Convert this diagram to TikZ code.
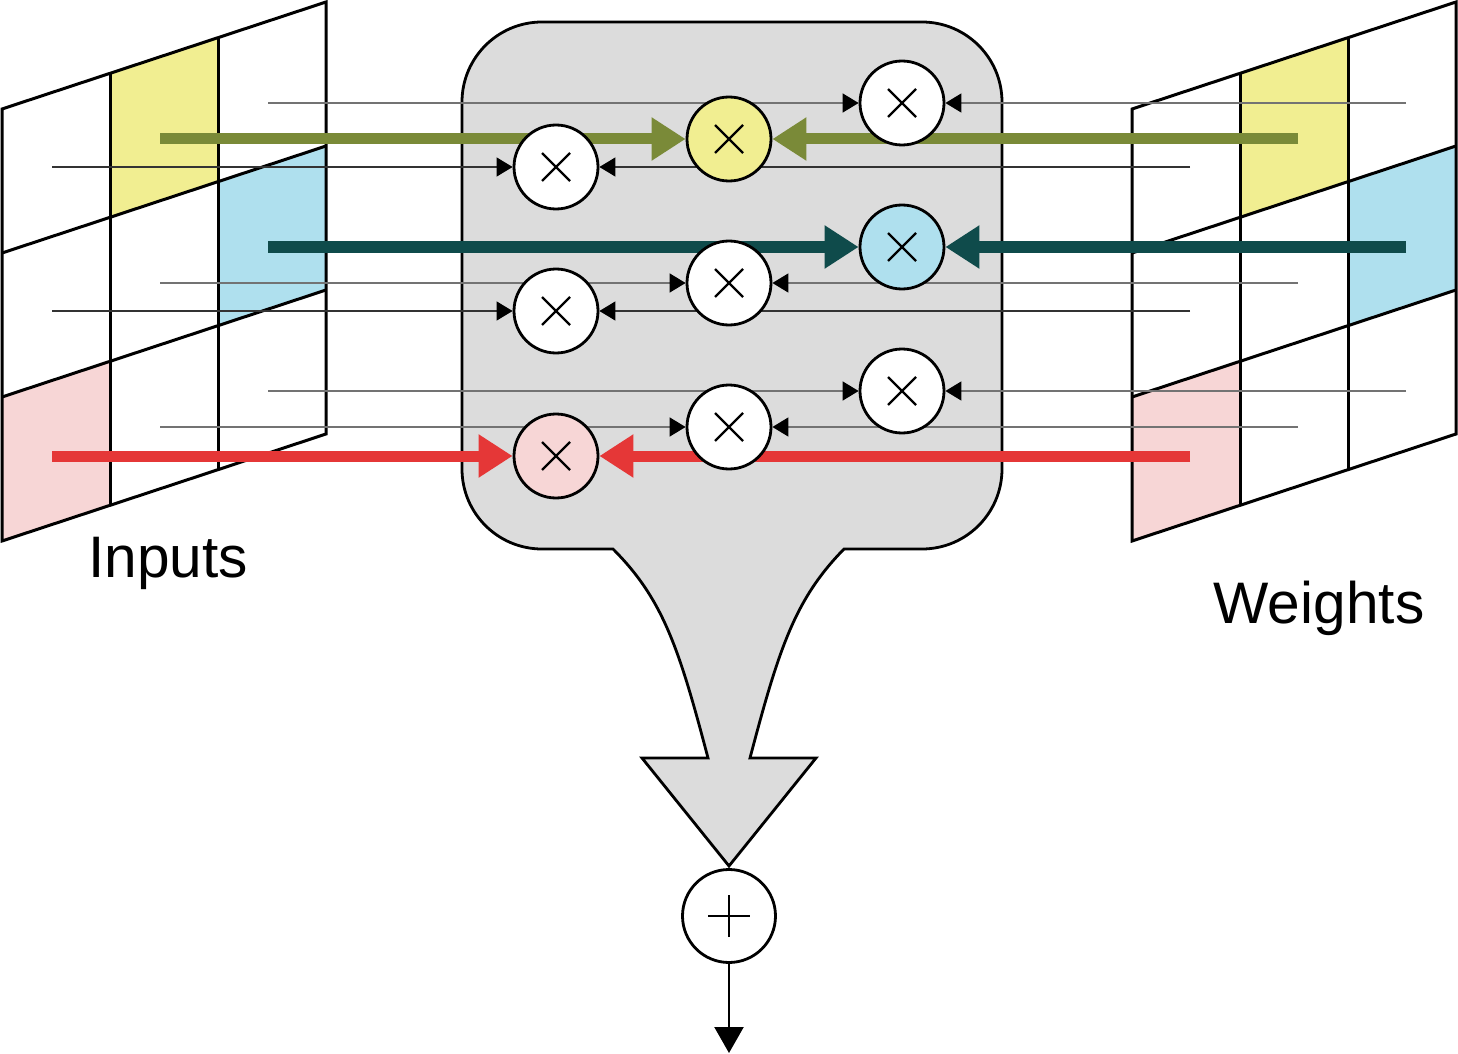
\documentclass[tikz,border=0pt]{standalone}
\usepackage{xcolor}
\usepackage{fontspec}
\setmainfont{Liberation Sans}
\usepackage{tikz}
\usetikzlibrary{arrows.meta}
\usetikzlibrary{positioning}
\definecolor{cyellow}{HTML}{F1EE91}
\definecolor{cblue}{HTML}{AFE0EE}
\definecolor{cpink}{HTML}{F7D6D6}
\definecolor{colive}{HTML}{7A8A38}
\definecolor{cteal}{HTML}{0F4B4B}
\definecolor{cred}{HTML}{E53737}
\definecolor{boxgray}{HTML}{DCDCDC}
\pgfdeclarelayer{background}
\pgfdeclarelayer{wires}
\pgfsetlayers{background,wires,main}
\tikzstyle{gridline} = [line width=1.5pt, draw=black, line join=miter]
\tikzstyle{box} = [line width=1.4pt, draw=black, fill=boxgray]
\tikzstyle{mult} = [circle, draw=black, line width=1.4pt, fill=white, minimum size=42pt, inner sep=0pt,
    path picture={
      \draw[line width=1.1pt] ([shift={(-7pt,-7pt)}]path picture bounding box.center) -- ([shift={(7pt,7pt)}]path picture bounding box.center);
      \draw[line width=1.1pt] ([shift={(-7pt,7pt)}]path picture bounding box.center) -- ([shift={(7pt,-7pt)}]path picture bounding box.center);}]
\tikzstyle{adder} = [circle, draw=black, line width=1.4pt, fill=white, minimum size=46.5pt, inner sep=0pt,
    path picture={
      \draw[line width=1.2pt] ([shift={(-10.5pt,0pt)}]path picture bounding box.center) -- ([shift={(10.5pt,0pt)}]path picture bounding box.center);
      \draw[line width=1.2pt] ([shift={(0pt,-10.5pt)}]path picture bounding box.center) -- ([shift={(0pt,10.5pt)}]path picture bounding box.center);}]
\tikzstyle{wire} = [line width=0.8pt, draw=black!55, -{Triangle[length=8pt, width=9.5pt, black]}]
\tikzstyle{wiredark} = [wire, line width=0.65pt, draw=black!80]
\tikzstyle{bus} = [line width=5.5pt, -{Triangle[length=17pt, width=20.5pt]}]
\tikzstyle{busolive} = [bus, draw=colive]
\tikzstyle{busteal} = [bus, draw=cteal]
\tikzstyle{busred} = [bus, draw=cred]
\tikzstyle{outarrow} = [line width=1.2pt, -{Triangle[length=13pt, width=14.5pt]}]
\tikzstyle{gridlabel} = [font=\fontsize{29.3pt}{34pt}\selectfont, anchor=base, inner sep=0pt]
\newcommand{\gridcell}[3]{\fill[#3] ({#1*108}, {#2*144-#1*35.67}) -- ++(108,-35.67) -- ++(0,144) -- ++(-108,35.67) -- cycle;}

\begin{document}
\begin{tikzpicture}[x=0.5pt, y=-0.5pt]
    \useasboundingbox (0,0) rectangle (1458,1054);
    \begin{pgfonlayer}{background}
    % multiplier block with its funnel
    \draw[box] (613,549) -- (542,549) .. controls (497.8,549) and (462,513.2) .. (462,469)
        -- (462,102) .. controls (462,57.8) and (497.8,22) .. (542,22)
        -- (922,22) .. controls (966.2,22) and (1002,57.8) .. (1002,102)
        -- (1002,469) .. controls (1002,513.2) and (966.2,549) .. (922,549)
        -- (844,549) .. controls (795,599) and (779,648) .. (750,758)
        -- (816,758) -- (729,866) -- (642,758) -- (708,758)
        .. controls (679,648) and (663,599) .. (613,549) -- cycle;
    % input and weight grids
    \foreach \gx in {2,1132} {
      \begin{scope}[shift={(\gx,109)}]
        \gridcell{1}{0}{cyellow}
        \gridcell{2}{1}{cblue}
        \gridcell{0}{2}{cpink}
        \foreach \r in {1,2} \draw[gridline] (0,{\r*144}) -- (324,{\r*144-107});
        \foreach \c in {1,2} \draw[gridline] ({\c*108},{-\c*35.67}) -- ({\c*108},{432-\c*35.67});
        \draw[gridline] (0,0) -- (324,-107) -- (324,325) -- (0,432) -- cycle;
      \end{scope}
    }
    \end{pgfonlayer}

    \node[gridlabel] (inputs) at (168,577) {Inputs};
    \node[gridlabel] (weights) at (1319,623) {Weights};

    \foreach \c/\y/\cf/\ws [count=\k] in {
        2/103/white/wire, 1/139/cyellow/busolive, 0/167/white/wiredark,
        2/247/cblue/busteal, 1/283/white/wire, 0/311/white/wiredark,
        2/391/white/wire, 1/427/white/wire, 0/456/cpink/busred} {
      \node[mult, fill=\cf] (mul\k) at ({556+\c*173}, \y) {};
      \coordinate (src\k) at ({52+\c*108}, \y);
      \coordinate (wgt\k) at ({1190+\c*108}, \y);
      \begin{pgfonlayer}{wires}
        \draw[\ws] (src\k) -- (mul\k);
        \draw[\ws] (wgt\k) -- (mul\k);
      \end{pgfonlayer}
    }

    \node[adder] (sum) at (729,916) {};
    \coordinate (result) at (729,1053);
    \draw[outarrow] (sum) -- (result);
\end{tikzpicture}
\end{document}
